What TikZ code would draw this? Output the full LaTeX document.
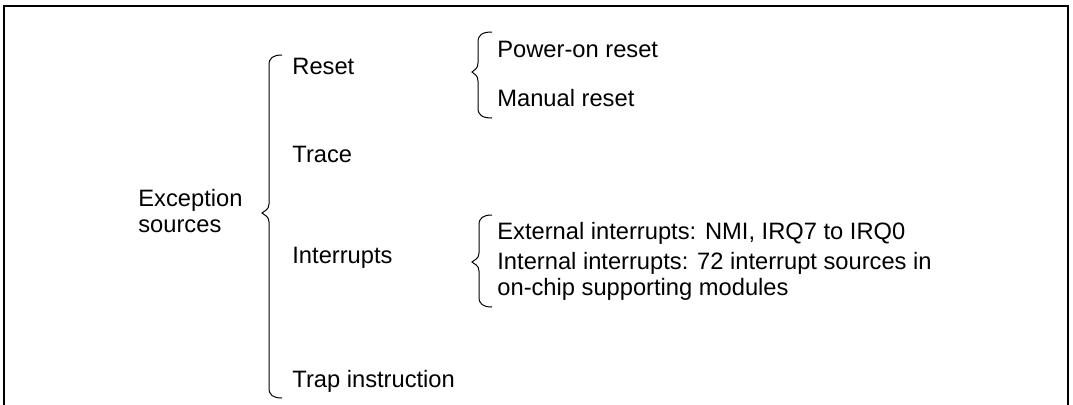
\documentclass[tikz,border=0pt]{standalone}
\usepackage{fontspec}
\setmainfont{Liberation Sans}

% curly bracket opening to the right: end x, line x, tip x, top y, tip y, bottom y
\newcommand{\openbrace}[6]{%
  \draw[bracket] (#1,#4) .. controls (#2+4,#4) and (#2,#4+3) .. (#2,#4+10)
    -- (#2,#5-9) .. controls (#2,#5-3) and (#3+2,#5-2) .. (#3,#5)
    .. controls (#3+2,#5+2) and (#2,#5+3) .. (#2,#5+9)
    -- (#2,#6-10) .. controls (#2,#6-3) and (#2+4,#6) .. (#1,#6);}

\begin{document}
\begin{tikzpicture}[
  x=0.5pt, y=-0.5pt,
  every node/.style={font=\fontsize{11.85}{13}\selectfont, inner sep=0pt, anchor=base west, align=left},
  bracket/.style={line width=0.5pt},
  frame/.style={line width=1.3pt}
]
\useasboundingbox (0,0) rectangle (1073,404);
\draw[frame] (4,410) -- (4,6) -- (1068,6) -- (1068,410);

\node (exc) at (138,232) {Exception\\sources};

\node (reset) at (292,74) {Reset};
\node (trace) at (292,162) {Trace};
\node (intr) at (292,263) {Interrupts};
\node (trap) at (292,387) {Trap instruction};

\node (poweron) at (497,57) {Power-on reset};
\node (manual) at (497,106) {Manual reset};
\node (extint) at (497,239) {External interrupts: NMI, IRQ7 to IRQ0};
\node (intint) at (497,295) {Internal interrupts: 72 interrupt sources in\\on-chip supporting modules};

\openbrace{282}{269}{262}{55}{213}{398}
\openbrace{492}{478}{472}{32}{72}{118}
\openbrace{492}{479}{472}{215}{262}{307}
\end{tikzpicture}
\end{document}
